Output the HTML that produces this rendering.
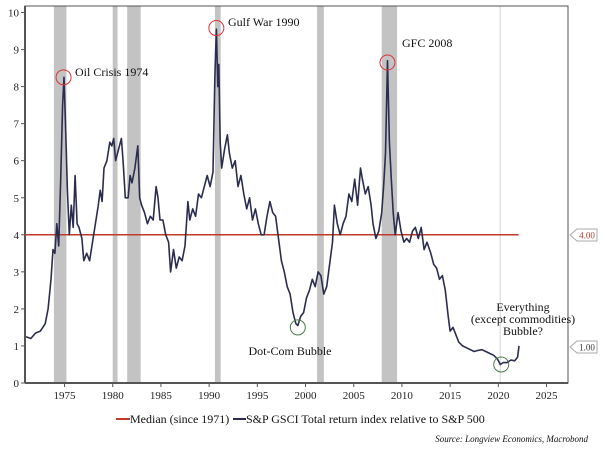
<!DOCTYPE html>
<html><head><meta charset="utf-8"><style>
body{margin:0;background:#fff;}
svg text{font-family:"Liberation Serif",serif;}
</style></head><body>
<svg width="607" height="454" xmlns="http://www.w3.org/2000/svg">
<g id="bands"></g>
<g id="axes"></g>
<g id="series"></g>
<g id="ann"></g>
</svg>
<script>
const recessionStarts=[1973.9,1980.0,1981.5,1990.6,2001.2,2007.9];
const recessionEnds=[1975.2,1980.5,1982.9,1991.2,2001.9,2009.5];
const yTicks=[0,1,2,3,4,5,6,7,8,9,10];
const xTicks=[1975,1980,1985,1990,1995,2000,2005,2010,2015,2020,2025];
const medianValue=4;
const years=[1971.0,1971.5,1972,1972.5,1973,1973.3,1973.6,1973.8,1974.0,1974.2,1974.4,1974.6,1974.8,1974.95,1975.1,1975.3,1975.5,1975.7,1975.9,1976.1,1976.3,1976.5,1976.8,1977.0,1977.3,1977.6,1977.9,1978.2,1978.5,1978.7,1978.9,1979.1,1979.4,1979.7,1979.9,1980.1,1980.3,1980.6,1980.9,1981.1,1981.3,1981.6,1981.8,1982.0,1982.3,1982.6,1982.8,1983.0,1983.3,1983.6,1983.9,1984.2,1984.5,1984.7,1984.9,1985.2,1985.5,1985.8,1986.0,1986.3,1986.6,1986.9,1987.2,1987.5,1987.8,1988.0,1988.3,1988.6,1988.9,1989.2,1989.5,1989.8,1990.1,1990.4,1990.6,1990.75,1990.9,1991.0,1991.15,1991.3,1991.6,1991.9,1992.1,1992.4,1992.7,1993.0,1993.3,1993.6,1993.9,1994.2,1994.5,1994.8,1995.1,1995.4,1995.7,1996.0,1996.3,1996.6,1996.9,1997.2,1997.5,1997.8,1998.1,1998.4,1998.7,1999.0,1999.2,1999.5,1999.8,2000.1,2000.4,2000.7,2001.0,2001.3,2001.6,2001.9,2002.2,2002.5,2002.8,2003.0,2003.3,2003.6,2003.9,2004.2,2004.5,2004.8,2005.1,2005.4,2005.7,2005.9,2006.2,2006.5,2006.8,2007.0,2007.3,2007.6,2007.9,2008.1,2008.3,2008.5,2008.7,2008.9,2009.1,2009.3,2009.6,2009.9,2010.2,2010.5,2010.8,2011.1,2011.4,2011.7,2012.0,2012.3,2012.6,2013.0,2013.3,2013.6,2013.9,2014.2,2014.5,2014.8,2015.0,2015.3,2015.6,2015.9,2016.3,2016.7,2017.1,2017.5,2017.9,2018.3,2018.7,2019.1,2019.5,2019.9,2020.2,2020.5,2020.9,2021.3,2021.7,2022.0,2022.15];
const values=[1.25,1.2,1.35,1.4,1.6,2.0,2.8,3.6,3.5,4.3,3.7,5.5,7.5,8.25,7.0,5.2,4.0,4.8,4.2,5.6,4.3,4.2,3.9,3.3,3.5,3.3,3.8,4.3,4.8,5.2,4.9,5.8,6.0,6.5,6.4,6.6,6.0,6.3,6.6,5.9,5.0,5.0,5.6,5.4,5.8,6.4,5.0,4.8,4.6,4.3,4.5,4.4,5.3,5.0,4.4,4.4,4.0,3.8,3.0,3.6,3.1,3.4,3.3,3.7,4.9,4.4,4.7,4.5,5.1,5.0,5.3,5.6,5.3,5.7,8.3,9.55,8.0,8.6,6.5,5.8,6.3,6.7,6.2,5.8,6.0,5.3,5.6,5.1,4.7,5.0,4.4,4.7,4.3,4.0,4.0,4.5,4.9,4.6,4.5,3.9,3.3,3.0,2.6,2.4,1.9,1.6,1.55,1.8,1.9,2.3,2.5,2.8,2.6,3.0,2.9,2.4,2.6,3.2,3.8,4.8,4.3,4.0,4.3,4.5,5.1,4.9,5.5,4.8,5.8,5.5,5.1,5.3,4.8,4.3,3.9,4.1,4.6,5.3,6.2,8.7,6.5,5.5,4.6,4.0,4.6,4.1,3.8,3.9,3.8,4.1,4.2,3.9,4.2,3.6,3.8,3.5,3.2,3.1,2.8,2.9,2.5,1.8,1.4,1.5,1.3,1.1,1.0,0.95,0.9,0.85,0.88,0.9,0.85,0.8,0.75,0.65,0.5,0.55,0.55,0.62,0.6,0.7,1.0];
const redCircleYears=[1974.9,1990.75,2008.5];
const redCircleValues=[8.25,9.58,8.65];
const greenCircleYears=[1999.2,2020.3];
const greenCircleValues=[1.5,0.5];

const NS='http://www.w3.org/2000/svg';
const L=25,R=568,T=6,B=383;
const x=yr=>25+(yr-1970.9)*9.64;
const y=v=>383-v*37.05;
function mk(tag,attrs,parent,txt){const e=document.createElementNS(NS,tag);for(const k in attrs)e.setAttribute(k,attrs[k]);if(txt!==undefined)e.textContent=txt;parent.appendChild(e);return e;}
const bands=document.getElementById('bands'),axes=document.getElementById('axes'),series=document.getElementById('series'),ann=document.getElementById('ann');
recessionStarts.forEach((s,i)=>{const r=mk('rect',{x:x(s),y:T,width:x(recessionEnds[i])-x(s),height:B-T,fill:'#c3c3c3'},bands);

});
const fl=mk('line',{x1:x(2020.2),x2:x(2020.2),y1:T,y2:B,stroke:'#e2e2e2','stroke-width':1.5},bands);


// frame
const fr=mk('path',{d:`M${L},${B}V${T}H${R}V${B}Z`,fill:'none',stroke:'#555','stroke-width':1},axes);


mk('line',{x1:L,x2:R,y1:B,y2:B,stroke:'#555','stroke-width':2},axes);
mk('line',{x1:L,x2:L,y1:T,y2:B,stroke:'#555','stroke-width':2},axes);
yTicks.forEach(v=>{mk('line',{x1:L-4,x2:L,y1:y(v),y2:y(v),stroke:'#555'},axes);
const t=mk('text',{x:L-6,y:y(v)+4,'text-anchor':'end','font-size':11,fill:'#222'},axes,v);

});
xTicks.forEach(v=>{mk('line',{x1:x(v),x2:x(v),y1:B,y2:B+4,stroke:'#555'},axes);
const t=mk('text',{x:x(v),y:B+16,'text-anchor':'middle','font-size':11,fill:'#222'},axes,v);

});
const med=mk('line',{x1:L,x2:x(2022.1),y1:y(medianValue),y2:y(medianValue),stroke:'#c0392b','stroke-width':1.5},series);


const p=mk('polyline',{points:years.map((yr,i)=>x(yr).toFixed(1)+','+y(values[i]).toFixed(1)).join(' '),fill:'none',stroke:'#2b2d4f','stroke-width':1.6,'stroke-linejoin':'round'},series);


redCircleYears.forEach((yr,i)=>{const c=mk('circle',{cx:x(yr),cy:y(redCircleValues[i]),r:7.5,fill:'none',stroke:'#d33'},ann);

});
greenCircleYears.forEach((yr,i)=>{const c=mk('circle',{cx:x(yr),cy:y(greenCircleValues[i]),r:7.5,fill:'none',stroke:'#4a7a4a'},ann);

});
function label(txt,xx,yy,anchor,name,size,extra){const t=mk('text',Object.assign({x:xx,y:yy,'text-anchor':anchor||'start','font-size':size||12,fill:'#111'},extra||{}),ann,txt);

return t;}
label('Oil Crisis 1974',75,76,'start','oil-crisis-label');
label('Gulf War 1990',228,26,'start','gulf-war-label');
label('GFC 2008',402,47,'start','gfc-label');
label('Dot-Com Bubble',290,355,'middle','dotcom-label');
label('Everything',523,311,'middle','everything-label-1');
label('(except commodities)',523,323,'middle','everything-label-2');
label('Bubble?',523,335,'middle','everything-label-3');
// right value tags
[[4,'4.00','#c0392b','median-value-tag'],[1,'1.00','#333','last-value-tag']].forEach(([v,t,c,n])=>{
const yy=v===4?235:347;
const g=mk('path',{d:`M570,${yy}L577,${yy-6}H597V${yy+6}H577Z`,fill:'#fff',stroke:'#aaa'},ann);


label(t,587,yy+3.5,'middle',n,9,{fill:c});});
// legend
mk('line',{x1:116,x2:130,y1:419,y2:419,stroke:'#c0392b','stroke-width':2},ann);
label('Median (since 1971)',130,423,'start','legend-median');
mk('line',{x1:233,x2:246,y1:419,y2:419,stroke:'#2b2d4f','stroke-width':2},ann);
label('S&P GSCI Total return index relative to S&P 500',246,423,'start','legend-gsci');
label('Source: Longview Economics, Macrobond',588,442,'end','source-note',9,{'font-style':'italic'});
</script>
</body></html>
